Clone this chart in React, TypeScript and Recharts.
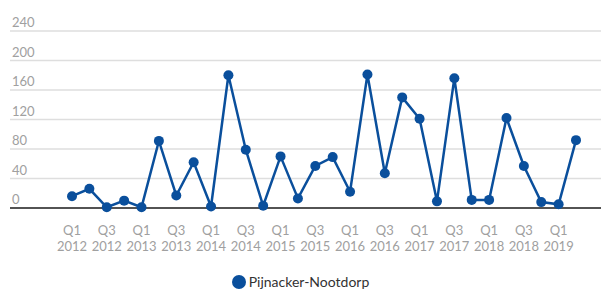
import { LineChart, Line, XAxis, YAxis, CartesianGrid, Legend } from "recharts";

const quarters = [
  "Q1 2012", "Q2 2012", "Q3 2012", "Q4 2012",
  "Q1 2013", "Q2 2013", "Q3 2013", "Q4 2013",
  "Q1 2014", "Q2 2014", "Q3 2014", "Q4 2014",
  "Q1 2015", "Q2 2015", "Q3 2015", "Q4 2015",
  "Q1 2016", "Q2 2016", "Q3 2016", "Q4 2016",
  "Q1 2017", "Q2 2017", "Q3 2017", "Q4 2017",
  "Q1 2018", "Q2 2018", "Q3 2018", "Q4 2018",
  "Q1 2019", "Q2 2019",
];

const values = [
  16, 26, 1, 10, 1, 91, 17, 62, 2, 180,
  79, 3, 70, 13, 57, 69, 22, 181, 47, 150,
  121, 9, 176, 11, 11, 122, 57, 8, 5, 92,
];

const yTicks = [0, 40, 80, 120, 160, 200, 240];

const SERIES = "Pijnacker-Nootdorp";
const BLUE = "#0a4f9c";
const FONT = "Lato, 'Noto Sans', sans-serif";

const data = quarters.map((q, i) => ({ q, v: values[i] }));

const YTick = (props: any) => {
  const { y, payload } = props;
  return (
    <text x={12} y={y - 4} fill="#a0a0a0" fontSize={13} fontFamily={FONT} textAnchor="start">
      {payload.value}
    </text>
  );
};

const XTick = (props: any) => {
  const { x, y, payload } = props;
  const [qq, yy] = String(payload.value).split(" ");
  return (
    <text x={x} y={y} fill="#a0a0a0" fontSize={13} fontFamily={FONT} textAnchor="middle">
      <tspan x={x} dy={19}>{qq}</tspan>
      <tspan x={x} dy={16}>{yy}</tspan>
    </text>
  );
};

const LegendContent = () => (
  <div
    style={{
      height: 38,
      display: "flex",
      justifyContent: "center",
      alignItems: "flex-end",
      boxSizing: "border-box",
    }}
  >
    <div style={{ display: "flex", alignItems: "center", marginBottom: 1 }}>
      <span
        style={{
          width: 14,
          height: 14,
          borderRadius: 7,
          background: BLUE,
          display: "inline-block",
          marginRight: 3,
        }}
      />
      <span style={{ fontFamily: FONT, fontSize: 14, color: "#333" }}>{SERIES}</span>
    </div>
  </div>
);

export default function App() {
  return (
    <div style={{ position: "absolute", left: 0, top: 0, background: "#fff" }}>
      <LineChart
        width={601}
        height={291}
        data={data}
        margin={{ top: 31, right: 0, left: 0, bottom: 0 }}
      >
        <CartesianGrid vertical={false} stroke="#dedede" strokeWidth={1.5} />
        <XAxis
          dataKey="q"
          interval={1}
          height={45}
          padding={{ left: 62, right: 25 }}
          tickLine={false}
          axisLine={{ stroke: "#222", strokeWidth: 1.5 }}
          tick={<XTick />}
        />
        <YAxis
          width={10}
          domain={[0, 240]}
          ticks={yTicks}
          axisLine={false}
          tickLine={false}
          tick={<YTick />}
        />
        <Legend verticalAlign="bottom" content={<LegendContent />} />
        <Line
          dataKey="v"
          name={SERIES}
          stroke={BLUE}
          strokeWidth={2.5}
          dot={{ r: 5, fill: BLUE, stroke: BLUE, strokeWidth: 0 }}
          activeDot={false}
          isAnimationActive={false}
        />
      </LineChart>
    </div>
  );
}
